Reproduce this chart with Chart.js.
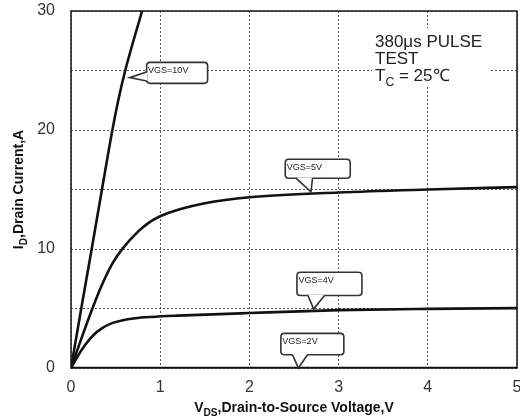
<!DOCTYPE html>
<html>
<head>
<meta charset="utf-8">
<script src="https://cdn.jsdelivr.net/npm/chart.js@4.4.1/dist/chart.umd.min.js"></script>
<style>
  html, body { margin: 0; padding: 0; background: #fff; }
  #wrap { width: 520px; height: 418px; }
</style>
</head>
<body>
<div id="wrap"><canvas id="chart"></canvas></div>
<script>
// output characteristics, Id vs Vds at several gate voltages
const vds10 = [0, 0.115, 0.232, 0.347, 0.464, 0.53, 0.608, 0.70, 0.797, 0.85];
const id10  = [0, 5, 10, 15, 20, 22.5, 25, 27.5, 30, 31.3];

const vds5 = [0, 0.12, 0.24, 0.36, 0.47, 0.58, 0.757, 0.87, 1.0, 1.2, 1.5, 2, 3, 4, 5];
const id5  = [0, 2.55, 5.0, 7.2, 8.85, 10.05, 11.5, 12.2, 12.75, 13.3, 13.85, 14.35, 14.75, 15.0, 15.2];

const vds4 = [0, 0.08, 0.16, 0.25, 0.35, 0.46, 0.57, 0.72, 0.9, 1.2, 2, 3, 4, 5];
const id4  = [0, 1.05, 1.95, 2.75, 3.35, 3.77, 4.0, 4.18, 4.29, 4.4, 4.62, 4.86, 4.97, 5.03];

const vds2 = [0, 5];
const id2  = [0, 0];

const xTicks = [0, 1, 2, 3, 4, 5];
const yLabelled = [0, 10, 20, 30];

// callout labels and the point each one points at
const calloutText = ['VGS=10V', 'VGS=5V', 'VGS=4V', 'VGS=2V'];
const calloutV = [0.657, 2.69, 2.72, 2.55];
const calloutI = [24.4, 14.8, 4.97, 0];

const FONT = '"Liberation Sans", Arial, sans-serif';

const pts = (xs, ys) => xs.map((x, i) => ({ x: x, y: ys[i] }));

const curve = (label, xs, ys) => ({
  label: label,
  data: pts(xs, ys),
  borderColor: '#111',
  borderWidth: 2.6,
  pointRadius: 0,
  cubicInterpolationMode: 'monotone',
  fill: false
});

// box geometry for each callout, offsets from the tip in px
const calloutBoxes = [
  { side: 'left',   dx: 17,    dy: -15.3, w: 61, h: 21,   b0: -5.6, b1: 3.4 },
  { side: 'bottom', dx: -25.7, dy: -32.7, w: 65, h: 19,   b0: -15,  b1: 1.6 },
  { side: 'bottom', dx: -16.7, dy: -36.6, w: 65, h: 23.3, b0: -5.7, b1: 11 },
  { side: 'bottom', dx: -17.6, dy: -34.6, w: 63, h: 21.3, b0: -6,   b1: 9 }
];

function roundRectPath(ctx, x, y, w, h, r) {
  ctx.moveTo(x + r, y);
  ctx.lineTo(x + w - r, y);
  ctx.quadraticCurveTo(x + w, y, x + w, y + r);
  ctx.lineTo(x + w, y + h - r);
  ctx.quadraticCurveTo(x + w, y + h, x + w - r, y + h);
  ctx.lineTo(x + r, y + h);
  ctx.quadraticCurveTo(x, y + h, x, y + h - r);
  ctx.lineTo(x, y + r);
  ctx.quadraticCurveTo(x, y, x + r, y);
}

// text with a subscript part
function subText(ctx, parts, x, y, size, bold) {
  let cx = x;
  parts.forEach(p => {
    const s = p.sub ? size * 0.72 : size;
    ctx.font = (bold ? 'bold ' : '') + s + 'px ' + FONT;
    ctx.fillText(p.t, cx, y + (p.sub ? size * 0.28 : 0));
    cx += ctx.measureText(p.t).width;
  });
  return cx - x;
}

function measureSub(ctx, parts, size, bold) {
  let w = 0;
  parts.forEach(p => {
    const s = p.sub ? size * 0.72 : size;
    ctx.font = (bold ? 'bold ' : '') + s + 'px ' + FONT;
    w += ctx.measureText(p.t).width;
  });
  return w;
}

const decor = {
  id: 'decor',
  beforeDatasetsDraw(chart) {
    const { ctx, chartArea: a } = chart;
    ctx.save();
    // white patch behind the test conditions note
    ctx.fillStyle = '#fff';
    ctx.fillRect(a.right - 145, a.top + 17, 118, 57);
    // plot frame
    ctx.strokeStyle = '#222';
    ctx.lineWidth = 1.6;
    ctx.strokeRect(a.left, a.top, a.right - a.left, a.bottom - a.top);
    ctx.restore();
  },
  afterDatasetsDraw(chart) {
    const { ctx, chartArea: a, scales: { x, y } } = chart;
    ctx.save();

    // test conditions
    ctx.fillStyle = '#222';
    ctx.textBaseline = 'alphabetic';
    ctx.textAlign = 'left';
    ctx.font = '17px ' + FONT;
    const tx = a.right - 142;
    ctx.fillText('380\u03bcs PULSE', tx, a.top + 36);
    ctx.fillText('TEST', tx, a.top + 53);
    subText(ctx, [{ t: 'T' }, { t: 'C', sub: true }, { t: ' = 25\u2103' }], tx, a.top + 70, 17, false);

    // callouts
    calloutText.forEach((txt, i) => {
      const g = calloutBoxes[i];
      const px = x.getPixelForValue(calloutV[i]);
      const py = y.getPixelForValue(calloutI[i]);
      const bx = px + g.dx, by = py + g.dy;
      ctx.beginPath();
      roundRectPath(ctx, bx, by, g.w, g.h, 3.5);
      ctx.fillStyle = '#fff';
      ctx.fill();
      ctx.strokeStyle = '#333';
      ctx.lineWidth = 1.6;
      ctx.stroke();
      // pointer
      ctx.beginPath();
      if (g.side === 'left') {
        ctx.moveTo(bx + 0.8, py + g.b0);
        ctx.lineTo(px, py);
        ctx.lineTo(bx + 0.8, py + g.b1);
      } else {
        ctx.moveTo(px + g.b0, by + g.h - 0.8);
        ctx.lineTo(px, py);
        ctx.lineTo(px + g.b1, by + g.h - 0.8);
      }
      ctx.closePath();
      ctx.fill();
      ctx.beginPath();
      if (g.side === 'left') {
        ctx.moveTo(bx, py + g.b0);
        ctx.lineTo(px, py);
        ctx.lineTo(bx, py + g.b1);
      } else {
        ctx.moveTo(px + g.b0, by + g.h);
        ctx.lineTo(px, py);
        ctx.lineTo(px + g.b1, by + g.h);
      }
      ctx.stroke();
      ctx.fillStyle = '#222';
      ctx.font = '9px ' + FONT;
      ctx.textBaseline = 'middle';
      ctx.fillText(txt, bx + 1.5, by + 8.5);
    });

    // axis titles
    ctx.fillStyle = '#111';
    ctx.textBaseline = 'alphabetic';
    const xt = [{ t: 'V' }, { t: 'DS', sub: true }, { t: ',Drain-to-Source Voltage,V' }];
    const xw = measureSub(ctx, xt, 14, true);
    subText(ctx, xt, (a.left + a.right) / 2 - xw / 2, 412, 14, true);

    const yt = [{ t: 'I' }, { t: 'D', sub: true }, { t: ',Drain Current,A' }];
    const yw = measureSub(ctx, yt, 14, true);
    ctx.translate(23, (a.top + a.bottom) / 2);
    ctx.rotate(-Math.PI / 2);
    subText(ctx, yt, -yw / 2, 0, 14, true);

    ctx.restore();
  }
};

new Chart(document.getElementById('chart'), {
  type: 'line',
  data: {
    datasets: [
      curve('VGS=10V', vds10, id10),
      curve('VGS=5V', vds5, id5),
      curve('VGS=4V', vds4, id4),
      curve('VGS=2V', vds2, id2)
    ]
  },
  options: {
    responsive: true,
    maintainAspectRatio: false,
    animation: false,
    layout: { padding: { top: 11, right: 3, left: 0, bottom: 0 } },
    plugins: { legend: { display: false }, tooltip: { enabled: false } },
    scales: {
      x: {
        type: 'linear',
        min: 0,
        max: 5,
        afterBuildTicks: s => { s.ticks = xTicks.map(v => ({ value: v })); },
        afterFit: s => {
          s.height = 50;
          s.paddingLeft = 0;
          s.paddingRight = 0;
        },
        border: { display: false, dash: [2, 2] },
        grid: {
          drawTicks: false,
          color: '#555',
          lineWidth: 1
        },
        ticks: {
          padding: 10,
          color: '#333',
          font: { family: FONT, size: 16 },
          maxRotation: 0
        }
      },
      y: {
        min: 0,
        max: 30,
        ticks: {
          stepSize: 5,
          padding: 16,
          color: '#333',
          font: { family: FONT, size: 16 },
          callback: v => yLabelled.includes(v) ? String(v) : ''
        },
        afterFit: s => {
          s.width = 71;
          s.paddingTop = 0;
          s.paddingBottom = 0;
        },
        border: { display: false, dash: [2, 2] },
        grid: {
          drawTicks: false,
          color: '#555',
          lineWidth: 1
        }
      }
    }
  },
  plugins: [decor]
});
</script>
</body>
</html>
